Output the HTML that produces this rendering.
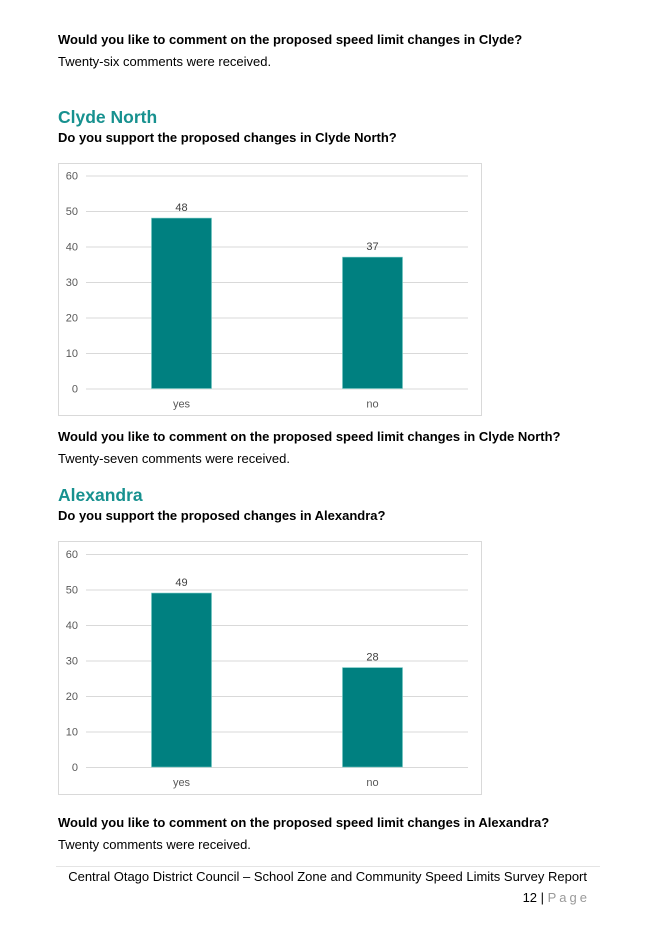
<!DOCTYPE html>
<html><head><meta charset="utf-8"><style>
body{margin:0;width:645px;height:934px;background:#fff;position:relative;font-family:"Liberation Sans",Arial,sans-serif;color:#000;overflow:hidden}
.t{position:absolute;left:58px;font-size:13px;white-space:nowrap}
.b{font-weight:bold}
.h{position:absolute;left:58px;font-size:17.5px;font-weight:bold;color:#17918f}
svg{position:absolute;left:0;top:0}
</style></head><body>
<div class="t b" style="top:32px">Would you like to comment on the proposed speed limit changes in Clyde?</div>
<div class="t" style="top:54px">Twenty-six comments were received.</div>
<div class="h" style="top:107px">Clyde North</div>
<div class="t b" style="top:130px">Do you support the proposed changes in Clyde North?</div>
<svg id="c1" width="645" height="934"></svg>
<div class="t b" style="top:429px">Would you like to comment on the proposed speed limit changes in Clyde North?</div>
<div class="t" style="top:451px">Twenty-seven comments were received.</div>
<div class="h" style="top:485px">Alexandra</div>
<div class="t b" style="top:508px">Do you support the proposed changes in Alexandra?</div>
<svg id="c2" width="645" height="934"></svg>
<div class="t b" style="top:815px">Would you like to comment on the proposed speed limit changes in Alexandra?</div>
<div class="t" style="top:837px">Twenty comments were received.</div>
<div style="position:absolute;left:56px;top:866px;width:544px;height:1px;background:#e4e4e4"></div>
<div style="position:absolute;right:58px;top:869px;font-size:13px;white-space:nowrap">Central Otago District Council – School Zone and Community Speed Limits Survey Report</div>
<div style="position:absolute;right:58px;top:890px;font-size:13px;white-space:nowrap">12 | <span style="color:#999;letter-spacing:3px">Pag</span><span style="color:#999">e</span></div>
<script>
const categories=["yes","no"];
const clydeNorthValues=[48,37];
const alexandraValues=[49,28];
const yTicks=[0,10,20,30,40,50,60];
const NS="http://www.w3.org/2000/svg";
function mk(svg,tag,attrs){const e=document.createElementNS(NS,tag);for(const k in attrs)e.setAttribute(k,attrs[k]);svg.appendChild(e);return e;}
function draw(id,values,box){
  const svg=document.getElementById(id);
  const y=v=>box.y0-(v/60)*(box.y0-box.y60);
  const bw=(box.px1-box.px0)/categories.length;
  const x=i=>box.px0+bw*(i+0.5);
  const frame=mk(svg,'rect',{x:box.bx0+0.5,y:box.by0+0.5,width:box.bx1-box.bx0,height:box.by1-box.by0,fill:'#fff',stroke:'#d9d9d9'});
  
  
  yTicks.forEach(t=>{
    const g=mk(svg,'line',{x1:box.px0,x2:box.px1,y1:y(t)+0.5,y2:y(t)+0.5,stroke:'#d9d9d9'});
    
    
    const l=mk(svg,'text',{x:box.bx0+20,y:y(t)+4,'text-anchor':'end','font-size':'11',fill:'#595959','font-family':'Liberation Sans, sans-serif'});
    l.textContent=t;
    
    
  });
  values.forEach((v,i)=>{
    const r=mk(svg,'rect',{x:x(i)-30,y:y(v),width:60,height:y(0)-y(v),fill:'#008080',stroke:'#6fc7c2','stroke-width':'0.6'});
    
    
    const lb=mk(svg,'text',{x:x(i),y:y(v)-7,'text-anchor':'middle','font-size':'11',fill:'#404040','font-family':'Liberation Sans, sans-serif'});
    lb.textContent=v;
    
    
    const c=mk(svg,'text',{x:x(i),y:y(0)+19,'text-anchor':'middle','font-size':'11',fill:'#595959','font-family':'Liberation Sans, sans-serif'});
    c.textContent=categories[i];
    
    
  });
}
draw('c1',clydeNorthValues,{bx0:58,bx1:481,by0:163,by1:415,px0:86,px1:468,y60:175.5,y0:388.5});
draw('c2',alexandraValues,{bx0:58,bx1:481,by0:541,by1:794,px0:86,px1:468,y60:554,y0:767});
</script>
</body></html>
